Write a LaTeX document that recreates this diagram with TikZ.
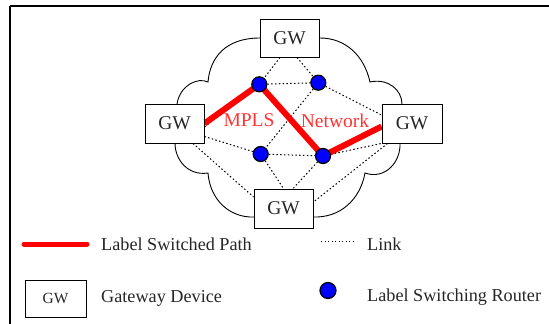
\documentclass[tikz,border=0pt]{standalone}
\usepackage{fontspec}
\setmainfont{Liberation Serif}
\usetikzlibrary{calc}
\pgfdeclarelayer{cloudlayer}
\pgfdeclarelayer{linklayer}
\pgfdeclarelayer{lsplayer}
\pgfsetlayers{cloudlayer,linklayer,lsplayer,main}
\begin{document}
\begin{tikzpicture}[x=1pt,y=-1pt,
  gwbox/.style={draw, fill=white, line width=0.9pt, minimum width=59pt, minimum height=38pt, inner sep=0pt, font=\fontsize{19.5}{19.5}\selectfont, text=black!85},
  lsr/.style={circle, draw, fill=blue, line width=1.2pt, minimum size=15pt, inner sep=0pt},
  link/.style={line width=1pt, dash pattern=on 1.5pt off 2.3pt},
  lsp/.style={red, line width=6pt, line join=round},
  lbl/.style={font=\fontsize{18.2}{18.2}\selectfont, text=black!85, anchor=base west, inner sep=0pt},
  netlbl/.style={font=\fontsize{19.5}{19.5}\selectfont, text=red!80, inner sep=0pt}]
\useasboundingbox (0,0) rectangle (549,324);
% frame
\draw[line width=2pt] (10,6) -- (549,6);
\draw[line width=1.5pt] (10,6) -- (10,324);

% gateway nodes
\node[gwbox] (gwT) at (289.5,38) {GW};
\node[gwbox, minimum height=39pt] (gwL) at (174.5,123.5) {GW};
\node[gwbox, minimum height=39pt, minimum width=60pt] (gwR) at (412,123.5) {GW};
\node[gwbox, minimum height=39pt] (gwB) at (283.5,208.5) {GW};

% routers
\node[lsr] (rA) at (259.3,84.3) {};
\node[lsr] (rB) at (318.3,82.7) {};
\node[lsr] (rC) at (260.7,154) {};
\node[lsr] (rD) at (323,156) {};

% labels
\node[netlbl] (mpls) at (249,120.5) {MPLS};
\node[netlbl] (net) at (335,120.5) {Network};

% cloud
\begin{pgfonlayer}{cloudlayer}
\draw[line width=0.9pt] (260,38) .. controls (225,38) and (210,58) .. (208,82)
  .. controls (198,77) and (180,85) .. (177,104)
  -- (175,143)
  .. controls (175,160) and (188,176) .. (208,173)
  .. controls (210,200) and (230,218) .. (254,217)
  -- (313,217)
  .. controls (340,218) and (360,200) .. (365,173)
  .. controls (385,180) and (401,162) .. (400,143)
  -- (402,104)
  .. controls (402,90) and (388,78) .. (370,82)
  .. controls (364,55) and (345,38) .. (320,38)
  -- cycle;
\end{pgfonlayer}

% links
\begin{pgfonlayer}{linklayer}
\draw[link] ($(gwT.south)+(-9.5,0)$) -- (rA);
\draw[link] ($(gwT.south)+(7.5,0)$) -- (rB);
\draw[link] (rA) -- (rB);
\draw[link] ($(gwL.east)+(0,3.5)$) -- (rA);
\draw[link] ($(gwL.east)+(0,13)$) -- (rC);
\draw[link] ($(gwL.south)+(18.5,0)$) -- ($(gwB.west)+(0,-11.5)$);
\draw[link] (rB) -- (rC);
\draw[link] (rC) -- (rD);
\draw[link] (rA) -- (rD);
\draw[link] (rB) -- ($(gwR.west)+(0,-8.5)$);
\draw[link] (rD) -- (gwR.south west);
\draw[link] (rC) -- (gwB.north);
\draw[link] (rD) -- ($(gwB.north)+(9.5,0)$);
\draw[link] ($(gwR.south west)+(6,0)$) -- ($(gwB.east)+(0,-6.5)$);
\end{pgfonlayer}

% label switched path
\begin{pgfonlayer}{lsplayer}
\draw[lsp] (gwL.east) -- (rA.center) -- (rD.center) -- ($(gwR.west)+(0,3)$);
\end{pgfonlayer}

% legend
\coordinate (lspA) at (24,244);
\coordinate (lspB) at (87,244);
\draw[red, line width=5pt, line cap=round] (lspA) -- (lspB);
\node[lbl] (tLSP) at (101,250.5) {Label Switched Path};
\coordinate (lnkA) at (321,241.5);
\coordinate (lnkB) at (353,241.5);
\draw[line width=0.9pt, dash pattern=on 1.3pt off 2.2pt] (lnkA) -- (lnkB);
\node[lbl] (tLink) at (367,250.5) {Link};
\node[draw, fill=white, line width=0.9pt, minimum width=61pt, minimum height=37pt, inner sep=0pt, font=\fontsize{15.5}{15.5}\selectfont, text=black!85] (gwLeg) at (55.5,298.5) {GW};
\node[lbl] (tGW) at (101,302.5) {Gateway Device};
\node[lsr, minimum size=16pt] (rLeg) at (328,290.5) {};
\node[lbl] (tLSR) at (367,301.5) {Label Switching Router};
\end{tikzpicture}
\end{document}
